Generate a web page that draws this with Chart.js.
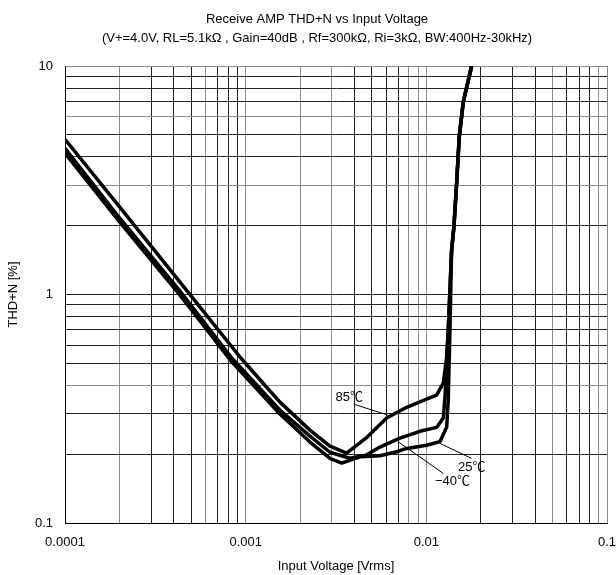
<!DOCTYPE html>
<html>
<head>
<meta charset="utf-8">
<script src="https://cdn.jsdelivr.net/npm/chart.js@4.4.1/dist/chart.umd.min.js"></script>
<style>
  html, body { margin: 0; padding: 0; background: #fff; }
</style>
</head>
<body>
<canvas id="thdChart" width="616" height="575"></canvas>
<script>
// Input voltage [Vrms] and THD+N [%] for each temperature
var v85 = [0.0001, 0.000201, 0.000433, 0.000942, 0.001548, 0.002269, 0.002928, 0.003622, 0.004631, 0.00603, 0.00778, 0.01004, 0.0114, 0.01241, 0.01296, 0.01322];
var thd85 = [4.78, 2.41, 1.132, 0.526, 0.338, 0.255, 0.217, 0.202, 0.235, 0.288, 0.321, 0.348, 0.363, 0.409, 0.532, 0.698];

var vM40 = [0.0001, 0.000201, 0.000433, 0.00084, 0.001548, 0.002269, 0.002928, 0.003777, 0.004631, 0.005536, 0.007145, 0.00922, 0.0114, 0.01241, 0.01268, 0.01296, 0.01322];
var thdM40 = [4.36, 2.157, 1.034, 0.526, 0.312, 0.240, 0.204, 0.192, 0.198, 0.215, 0.235, 0.252, 0.262, 0.288, 0.355, 0.500, 0.698];

var v25 = [0.0001, 0.000201, 0.000433, 0.00084, 0.001548, 0.002269, 0.002928, 0.0034, 0.004292, 0.005536, 0.00685, 0.00778, 0.01004, 0.01189, 0.01296, 0.01322, 0.01351];
var thd25 = [4.15, 2.072, 0.993, 0.506, 0.300, 0.226, 0.192, 0.183, 0.195, 0.197, 0.205, 0.212, 0.219, 0.227, 0.263, 0.345, 0.698];

// clipping region, all three curves run together here
var vTail = [0.0138, 0.01421, 0.01471, 0.01521, 0.01601, 0.01781];
var thdTail = [1.563, 1.975, 3.06, 4.89, 6.96, 10];

// axis tick labels (only decades are labelled)
var xLabels = ['0.0001', '0.001', '0.01', '0.1'];
var yLabels = ['0.1', '1', '10'];

var titleLines = [
    'Receive AMP THD+N vs Input Voltage',
    '(V+=4.0V, RL=5.1k\u03A9 , Gain=40dB , Rf=300k\u03A9, Ri=3k\u03A9, BW:400Hz-30kHz)'
];

// temperature labels with their leader lines (data coordinates)
var notes = [
    { text: '85\u2103', at: [0.003147, 0.3553], from: [0.00397, 0.331], to: [0.00613, 0.2965] },
    { text: '25\u2103', at: [0.01496, 0.1756], from: [0.0178, 0.1917], to: [0.01189, 0.223] },
    { text: '\u221240\u2103', at: [0.01116, 0.1526], from: [0.01241, 0.1648], to: [0.00699, 0.2266] }
];

var FONT = '"Liberation Sans", "Noto Sans CJK JP", sans-serif';

function logGrid(decades) {
    var out = [];
    decades.forEach(function (d) {
        for (var m = 1; m < 10; m++) out.push(+(m * d).toPrecision(2));
    });
    return out;
}
var xGrid = logGrid([1e-4, 1e-3, 1e-2]).concat([0.1]);
var yGrid = logGrid([0.1, 1]).concat([10]);

// a few grid lines are printed lighter
var xLight = [0.0002, 0.0006, 0.001, 0.002, 0.003, 0.008, 0.009, 0.01, 0.05, 0.09, 0.1];
var yLight = [0.4, 3, 6, 10];

function toPoints(xs, ys) {
    return xs.map(function (x, i) { return { x: x, y: ys[i] }; });
}

function curve(label, xs, ys) {
    return {
        label: label,
        data: toPoints(xs.concat(vTail), ys.concat(thdTail)),
        borderColor: '#000',
        borderWidth: 3.5,
        borderJoinStyle: 'round',
        pointRadius: 0,
        tension: 0,
        fill: false
    };
}

function decadeLabel(labels) {
    return function (value) {
        var s = labels.filter(function (l) { return Math.abs(parseFloat(l) - value) < value * 1e-6; });
        return s.length ? s[0] : '';
    };
}

var headerPlugin = {
    id: 'header',
    afterDraw: function (chart) {
        var ctx = chart.ctx;
        ctx.save();
        ctx.font = '13px ' + FONT;
        ctx.fillStyle = '#000';
        ctx.textAlign = 'center';
        ctx.textBaseline = 'middle';
        titleLines.forEach(function (t, i) {
            ctx.fillText(t, 317, 19.5 + i * 18.7);
        });
        ctx.restore();
    }
};

var notesPlugin = {
    id: 'notes',
    afterDatasetsDraw: function (chart) {
        var ctx = chart.ctx, sx = chart.scales.x, sy = chart.scales.y;
        ctx.save();
        ctx.strokeStyle = '#000';
        ctx.lineWidth = 1;
        ctx.fillStyle = '#000';
        ctx.font = '13px ' + FONT;
        ctx.textAlign = 'left';
        ctx.textBaseline = 'middle';
        notes.forEach(function (n) {
            ctx.beginPath();
            ctx.moveTo(sx.getPixelForValue(n.from[0]), sy.getPixelForValue(n.from[1]));
            ctx.lineTo(sx.getPixelForValue(n.to[0]), sy.getPixelForValue(n.to[1]));
            ctx.stroke();
            ctx.fillText(n.text, sx.getPixelForValue(n.at[0]), sy.getPixelForValue(n.at[1]));
        });
        ctx.restore();
    }
};

Chart.defaults.font.family = FONT;
Chart.defaults.font.size = 13;
Chart.defaults.color = '#000';

var ctx = document.getElementById('thdChart').getContext('2d');
var thdChart = new Chart(ctx, {
    type: 'line',
    data: {
        datasets: [
            curve('85\u2103', v85, thd85),
            curve('25\u2103', v25, thd25),
            curve('-40\u2103', vM40, thdM40)
        ]
    },
    options: {
        responsive: false,
        devicePixelRatio: 1,
        animation: false,
        layout: { padding: { top: 66, right: 9, bottom: 0, left: 0 } },
        plugins: {
            legend: { display: false },
            title: { display: false },
            tooltip: { enabled: false }
        },
        scales: {
            x: {
                type: 'logarithmic',
                min: 0.0001,
                max: 0.1,
                afterBuildTicks: function (scale) {
                    scale.ticks = xGrid.map(function (v) { return { value: v }; });
                },
                afterFit: function (scale) {
                    scale.height = 52;
                    scale.paddingLeft = 0;
                    scale.paddingRight = 0;
                },
                ticks: {
                    autoSkip: false,
                    maxRotation: 0,
                    padding: 12,
                    callback: decadeLabel(xLabels)
                },
                grid: {
                    drawTicks: false,
                    lineWidth: 1,
                    color: function (c) { return c.tick && xLight.indexOf(c.tick.value) >= 0 ? '#8a8a8a' : '#222'; }
                },
                border: { color: '#000', width: 1 },
                title: { display: true, text: 'Input Voltage [Vrms]', padding: { top: 0, bottom: 1 } }
            },
            y: {
                type: 'logarithmic',
                min: 0.1,
                max: 10,
                afterBuildTicks: function (scale) {
                    scale.ticks = yGrid.map(function (v) { return { value: v }; });
                },
                afterFit: function (scale) {
                    scale.width = 65;
                    scale.paddingTop = 0;
                    scale.paddingBottom = 0;
                },
                ticks: {
                    autoSkip: false,
                    padding: 12,
                    callback: decadeLabel(yLabels)
                },
                grid: {
                    drawTicks: false,
                    lineWidth: 1,
                    color: function (c) { return c.tick && yLight.indexOf(c.tick.value) >= 0 ? '#8a8a8a' : '#222'; }
                },
                border: { color: '#000', width: 1 },
                title: { display: true, text: 'THD+N [%]', padding: { top: 6, bottom: 0 } }
            }
        }
    },
    plugins: [headerPlugin, notesPlugin]
});
</script>
</body>
</html>
